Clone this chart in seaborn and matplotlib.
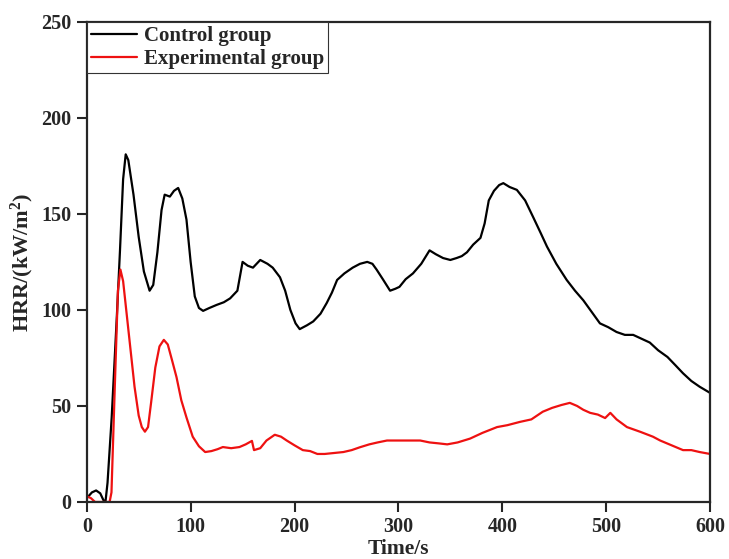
import numpy as np
import pandas as pd
import matplotlib
matplotlib.use("Agg")
import matplotlib.pyplot as plt
import seaborn as sns

# values
control_time = [0, 5, 9, 13, 16, 18, 20, 24, 29, 32, 35, 37.5, 40, 45, 50, 55, 60.5, 64, 68, 72, 75,
                80, 84, 88, 92, 96, 100, 104, 108, 112, 118, 125, 132, 138, 145, 150, 155, 160, 167,
                174, 179, 186, 191, 196, 201, 205, 212, 218, 225, 231, 236, 241, 248, 256, 263, 270,
                275, 279, 285, 292, 297, 301, 307, 314, 322, 330, 336, 343, 350, 356, 361, 366, 372,
                379, 383, 387, 392, 397, 401, 407, 414, 422, 430, 437, 443, 452, 462, 470, 478, 486,
                494, 502, 510, 518, 526, 534, 542, 550, 559, 567, 574, 582, 590, 600]
control_hrr = [2, 5, 6, 4.5, 1, 0, 10, 44, 97, 131, 168, 181, 178, 160, 138, 120, 110, 113, 130, 152, 160,
               159, 162, 163.5, 158, 147, 125, 107, 101, 99.5, 101, 102.6, 104, 106, 110, 125, 123, 122, 126,
               124, 122, 117, 110, 100, 93, 90, 92, 94, 98, 103.6, 109, 115.6, 119, 122, 124, 125,
               124, 121, 116, 110, 111, 112, 116, 119, 124, 131, 129, 127, 126, 127, 128, 130, 134,
               137.5, 145, 157, 162, 165, 166, 164, 162.5, 157, 148, 140, 133, 124, 115.6, 110, 105, 99,
               93, 91, 88.5, 87, 87, 85, 83, 79, 75.5, 71, 67, 63, 60, 56.8]

exp_time = [0, 4, 8, 12, 20, 22, 23.8, 27, 30, 32.4, 35, 38, 42, 46, 50, 53, 56, 59, 62, 66, 70, 74.2,
            78, 82, 86.4, 91, 96, 102, 108, 114, 120, 126, 131, 139, 147, 153, 159, 161, 167, 173, 181,
            187, 192.5, 200, 208, 215, 222, 229, 238, 247, 255, 263, 272, 280, 289, 300, 311, 321, 330,
            339, 347, 357, 369, 381, 395, 405, 417, 428, 439, 448, 457, 465, 472, 478, 484.6, 492, 499,
            504, 510, 520, 533, 545, 552, 563, 574, 582, 590, 600]
exp_hrr = [3, 2, 0, 0, 0, 0, 5, 60, 110, 121, 115, 100, 80, 60, 45, 39, 36.6, 39, 52, 70, 81, 84.4,
           82, 74, 65, 53, 44, 34, 29, 26, 26.5, 27.5, 28.6, 28, 28.6, 30, 31.8, 27, 28, 32, 35,
           34, 32, 29.5, 27, 26.5, 25, 25, 25.5, 26, 27, 28.5, 30, 31, 32, 32, 32, 32, 31,
           30.5, 30, 31, 33, 36, 39, 40, 41.7, 43, 47, 49, 50.5, 51.6, 50, 48, 46.4, 45.5, 43.7,
           46.4, 43, 39, 36.5, 34, 32, 29.5, 27, 27, 26, 25]

sns.set_style("ticks")
plt.rcParams['font.family'] = ['Liberation Serif', 'DejaVu Serif']
plt.rcParams['font.weight'] = 'bold'
plt.rcParams['mathtext.fontset'] = 'custom'
plt.rcParams['mathtext.rm'] = 'Liberation Serif:bold'
plt.rcParams['mathtext.bf'] = 'Liberation Serif:bold'
plt.rcParams['mathtext.default'] = 'bf'

fig = plt.figure(figsize=(7.29, 5.59), dpi=100)
ax = fig.add_axes([0.119, 0.102, 0.855, 0.859])

sns.lineplot(x=control_time, y=control_hrr, ax=ax, color='black', lw=1.6, label='Control group')
sns.lineplot(x=exp_time, y=exp_hrr, ax=ax, color='#ee1111', lw=1.6, label='Experimental group')

ax.set_xlim(0, 600)
ax.set_ylim(0, 250)
ax.set_xticks(range(0, 601, 100))
ax.set_yticks(range(0, 251, 50))
ax.tick_params(direction='out', length=7, width=1.5, labelsize=14.5, pad=4)
for s in ax.spines.values():
    s.set_linewidth(1.6)
    s.set_visible(True)
ax.set_xlabel('Time/s', fontsize=15.5, fontweight='bold', labelpad=1)
ax.set_ylabel('HRR/(kW/m$^{2}$)', fontsize=16, fontweight='bold', labelpad=4)

leg = ax.legend(loc='upper left', bbox_to_anchor=(0, 1), borderaxespad=0, fancybox=False,
                fontsize=15, handlelength=2.2, handletextpad=0.33, labelspacing=0.15,
                borderpad=0.2, framealpha=1)
leg.get_frame().set_edgecolor('#333333')
leg.get_frame().set_linewidth(0.8)

fig.savefig('out.png', dpi=100)
